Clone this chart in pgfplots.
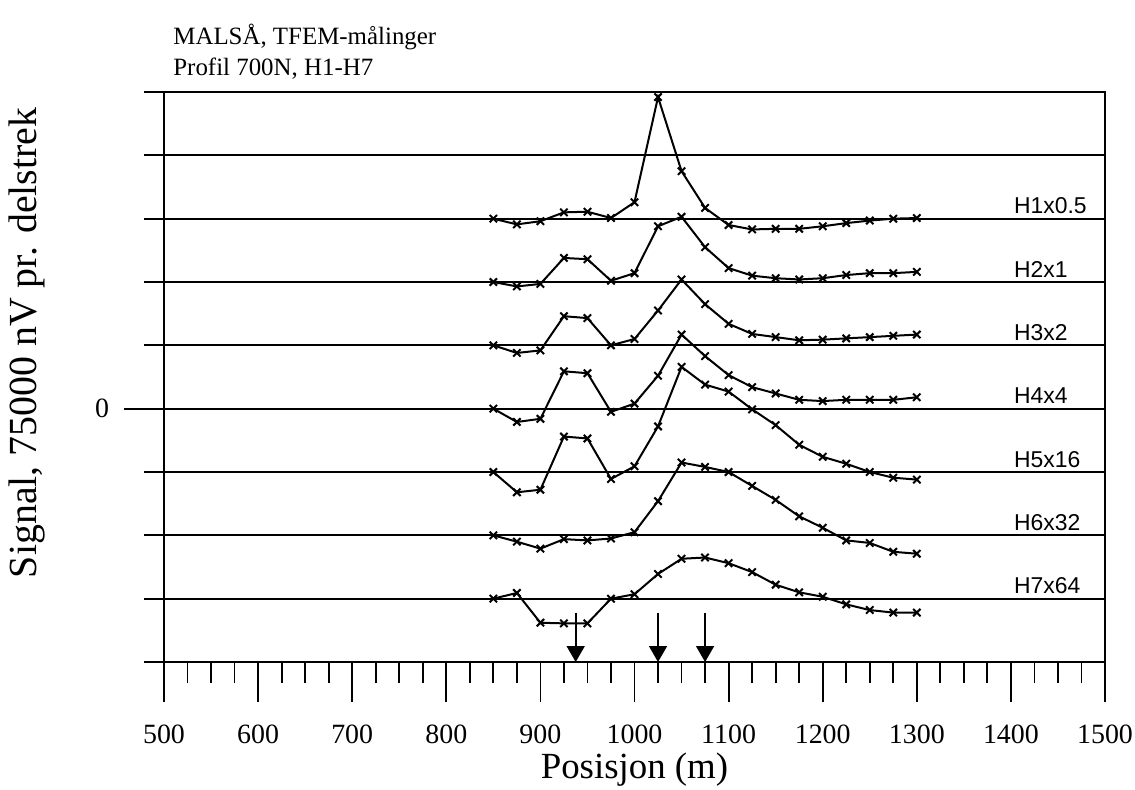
\documentclass[border=0pt]{standalone}
\usepackage{fontspec}
\setmainfont{Liberation Serif}
\newfontfamily\arial{Liberation Sans}
\usepackage{pgfplots}
\pgfplotsset{compat=1.18}
\usetikzlibrary{arrows.meta}

\begin{document}
\begin{tikzpicture}
\useasboundingbox (-82bp,-64bp) rectangle (485.5bp,331bp);
\begin{axis}[
    scale only axis,
    width=470.5bp, height=285bp,
    at={(0,0)}, anchor=south west,
    xmin=500, xmax=1500, ymin=-4, ymax=5,
    xtick={500,600,...,1500},
    minor x tick num=3,
    ytick=\empty,
    extra y ticks={-4,-3,-2,-1,0,1,2,3,4,5},
    extra y tick labels={,,,,0,,,,,},
    extra y tick style={grid=major, major tick length=10bp,
        yticklabel style={xshift=-14bp}},
    tick align=outside,
    xtick pos=bottom, ytick pos=left,
    major tick length=20bp, minor tick length=10.5bp,
    grid style={black, line width=0.9bp},
    axis line style={line width=0.9bp},
    every tick/.style={black, line width=0.9bp},
    /pgf/number format/1000 sep={},
    /pgf/number format/assume math mode=true,
    tick label style={font=\fontsize{14}{16}\selectfont},
    xticklabel style={yshift=-8bp},
    xlabel={Posisjon (m)},
    ylabel={Signal, 75000 nV pr. delstrek},
    xlabel style={font=\fontsize{18.5}{21}\selectfont,
        at={(axis description cs:0.5,-0.188)}, anchor=center},
    ylabel style={font=\fontsize{20}{22}\selectfont,
        at={(axis description cs:-0.1456,0.56)}, anchor=center},
    clip=false,
    curve/.style={black, solid, line width=1bp, mark=x, mark size=2.6bp,
        mark options={solid, line width=1bp}},
]
\addplot[curve] coordinates {(850,3.00) (875,2.91) (900,2.96) (925,3.10) (950,3.11) (975,3.01) (1000,3.26) (1025,4.92) (1050,3.75) (1075,3.17) (1100,2.90) (1125,2.83) (1150,2.84) (1175,2.84) (1200,2.88) (1225,2.93) (1250,2.97) (1275,3.00) (1300,3.01)};
\addplot[curve] coordinates {(850,2.00) (875,1.93) (900,1.97) (925,2.38) (950,2.36) (975,2.02) (1000,2.14) (1025,2.88) (1050,3.03) (1075,2.55) (1100,2.22) (1125,2.10) (1150,2.06) (1175,2.04) (1200,2.06) (1225,2.11) (1250,2.14) (1275,2.14) (1300,2.16)};
\addplot[curve] coordinates {(850,1.00) (875,0.88) (900,0.92) (925,1.46) (950,1.43) (975,1.00) (1000,1.10) (1025,1.55) (1050,2.04) (1075,1.65) (1100,1.34) (1125,1.18) (1150,1.13) (1175,1.08) (1200,1.09) (1225,1.11) (1250,1.13) (1275,1.15) (1300,1.17)};
\addplot[curve] coordinates {(850,0.00) (875,-0.21) (900,-0.16) (925,0.59) (950,0.56) (975,-0.05) (1000,0.08) (1025,0.52) (1050,1.17) (1075,0.83) (1100,0.53) (1125,0.34) (1150,0.24) (1175,0.14) (1200,0.12) (1225,0.14) (1250,0.14) (1275,0.14) (1300,0.18)};
\addplot[curve] coordinates {(850,-1.00) (875,-1.32) (900,-1.28) (925,-0.44) (950,-0.47) (975,-1.11) (1000,-0.91) (1025,-0.28) (1050,0.66) (1075,0.38) (1100,0.27) (1125,-0.01) (1150,-0.26) (1175,-0.57) (1200,-0.76) (1225,-0.87) (1250,-1.00) (1275,-1.09) (1300,-1.12)};
\addplot[curve] coordinates {(850,-2.00) (875,-2.10) (900,-2.21) (925,-2.06) (950,-2.08) (975,-2.05) (1000,-1.95) (1025,-1.46) (1050,-0.85) (1075,-0.92) (1100,-1.00) (1125,-1.22) (1150,-1.44) (1175,-1.70) (1200,-1.88) (1225,-2.08) (1250,-2.12) (1275,-2.26) (1300,-2.29)};
\addplot[curve] coordinates {(850,-3.00) (875,-2.91) (900,-3.38) (925,-3.39) (950,-3.39) (975,-3.00) (1000,-2.93) (1025,-2.61) (1050,-2.37) (1075,-2.35) (1100,-2.44) (1125,-2.58) (1150,-2.78) (1175,-2.90) (1200,-2.97) (1225,-3.09) (1250,-3.18) (1275,-3.22) (1300,-3.22)};

% longer tick at zero
\draw[line width=0.9bp] ([xshift=-20bp]axis cs:500,0) -- (axis cs:500,0);

% curve labels
\begin{scope}[every node/.style={anchor=base west, yshift=2.5bp, inner sep=0pt,
    font=\arial\fontsize{11.5}{13}\selectfont}]
\node at (axis cs:1403,3) {H1x0.5};
\node at (axis cs:1403,2) {H2x1};
\node at (axis cs:1403,1) {H3x2};
\node at (axis cs:1403,0) {H4x4};
\node at (axis cs:1403,-1) {H5x16};
\node at (axis cs:1403,-2) {H6x32};
\node at (axis cs:1403,-3) {H7x64};
\end{scope}

% arrows
\draw[line width=0.9bp, -{Triangle[width=9bp,length=8bp]}] (axis cs:937.5,-3.22) -- (axis cs:937.5,-4);
\draw[line width=0.9bp, -{Triangle[width=9bp,length=8bp]}] (axis cs:1025,-3.22) -- (axis cs:1025,-4);
\draw[line width=0.9bp, -{Triangle[width=9bp,length=8bp]}] (axis cs:1075,-3.22) -- (axis cs:1075,-4);

% title
\node[anchor=base west, inner sep=0pt, font=\fontsize{12.5}{15}\selectfont]
    at (rel axis cs:0,1) [xshift=4.5bp, yshift=24bp] {MALSÅ, TFEM-målinger};
\node[anchor=base west, inner sep=0pt, font=\fontsize{12.5}{15}\selectfont]
    at (rel axis cs:0,1) [xshift=4.5bp, yshift=8.5bp] {Profil 700N, H1-H7};
\end{axis}
\end{tikzpicture}
\end{document}
